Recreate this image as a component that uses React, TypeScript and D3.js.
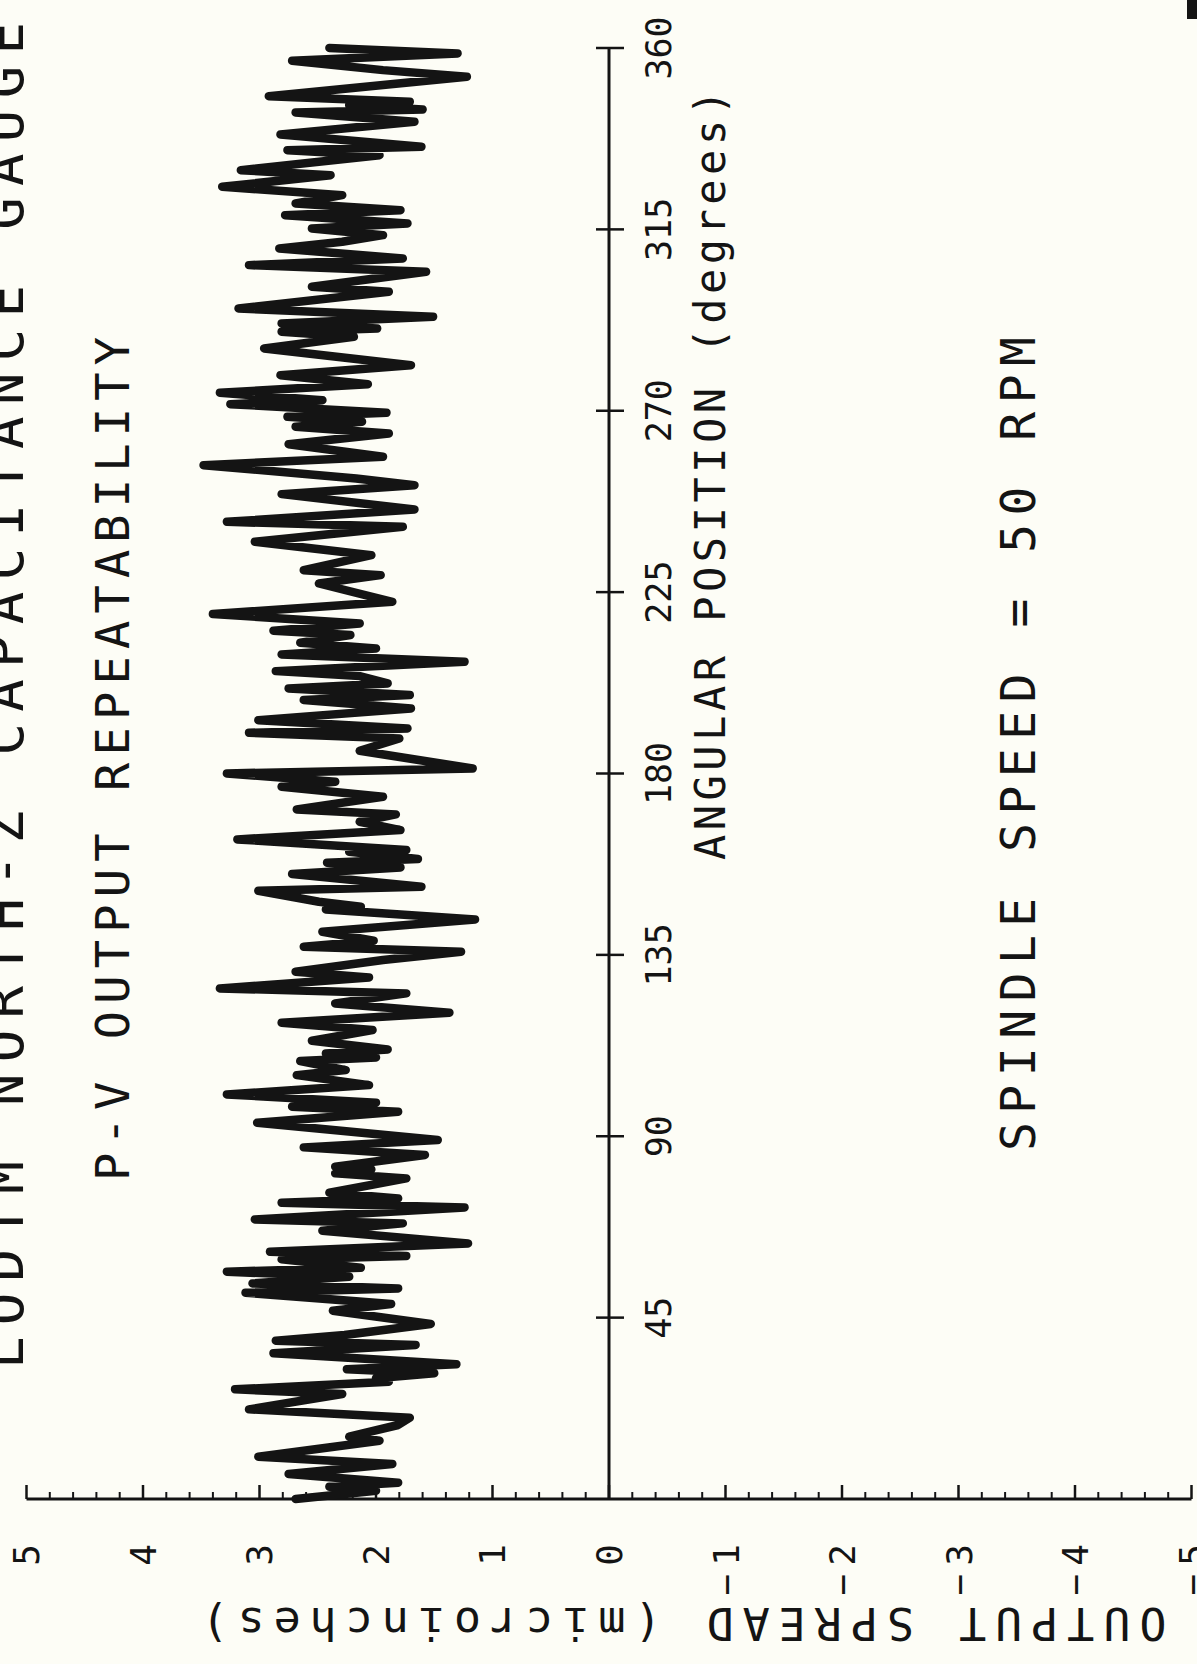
import React from "react";
import * as d3 from "d3";

// Peak-to-valley trace: angular position (degrees) and output spread (microinches)
const angleDeg = [
  0, 2.06, 3.05, 4.05, 6.2, 8.68, 10.5, 14.47, 15.46, 18.36, 20.17, 22.24, 26.05, 27.21, 29.11, 29.94,
  31.18, 32.17, 33.41, 36.14, 38.21, 39.28, 40.69, 43.42,
  46.71, 48.37, 51.18, 52.25, 53.49, 55.15, 56.39, 57.38, 59.45, 60.28, 61.35, 63.42, 66.56, 68.38,
  69.37, 72.35, 73.51, 74.58, 75.99, 79.55, 80.79, 81.78, 82.44, 85.34, 87.24, 89.06,
  93.35, 96.08, 97.32, 98.31, 100.38, 102.69, 105.17, 106.42, 108.65, 109.56, 110.55, 111.54, 113.69,
  116.34, 118.16, 120.64, 122.96, 125.44, 126.68, 129.41, 130.82, 133.71,
  135.77, 137.01, 138.5, 140.73, 143.8, 146.28, 146.94, 148.18, 150.91, 151.9, 155.05, 156.7, 157.86,
  158.77, 160.59, 161.0, 163.65, 165.96, 168.03, 169.85, 171.09, 174.23, 176.72, 177.96,
  180.01, 181.25, 185.63, 188.69, 190.1, 191.18, 193.24, 196.14, 198.21, 199.45, 201.1, 202.34, 204.16,
  205.4, 207.72, 209.54, 211.03, 212.43, 214.34, 215.41, 217.23, 219.55, 222.61,
  227.14, 229.21, 230.45, 234.17, 237.48, 241.2, 242.44, 245.5, 249.31, 251.54, 253.2, 256.5, 258.57,
  261.71, 264.36, 266.02, 267.26,
  268.49, 269.48, 271.64, 272.63, 274.45, 276.6, 278.83, 281.31, 285.45, 288.34, 289.58, 290.41, 291.65,
  293.31, 295.37, 299.51, 300.75, 304.47, 306.13, 307.78, 310.26, 311.92,
  313.56, 315.22, 316.46, 318.53, 319.77, 321.42, 323.49, 325.56, 328.45, 329.69, 333.41, 334.66, 335.48,
  338.54, 341.69, 344.0, 344.75, 345.82, 346.65, 348.05, 352.85, 354.51, 356.82, 358.64, 360,
];

const spreadMicroIn = [
  2.69, 2.0, 2.4, 1.81, 2.75, 1.86, 3.01, 1.97, 2.23, 1.81, 1.71, 3.09, 2.29, 3.21, 1.89, 2.0,
  1.5, 2.25, 1.31, 2.88, 1.66, 2.86, 2.27, 1.53,
  2.37, 1.87, 3.12, 1.81, 3.06, 2.23, 3.28, 2.13, 2.81, 1.74, 2.91, 1.21, 2.46, 1.77,
  3.04, 1.24, 2.81, 1.81, 2.4, 1.74, 2.35, 2.04, 2.35, 1.58, 2.62, 1.47,
  3.02, 1.81, 2.72, 2.0, 3.28, 2.06, 2.68, 2.26, 2.65, 2.0, 2.43, 1.9, 2.55,
  2.03, 2.81, 1.37, 2.35, 1.74, 3.34, 2.06, 2.69, 1.94,
  1.27, 2.62, 2.02, 2.46, 1.15, 2.43, 2.13, 2.49, 3.01, 1.61, 2.72, 1.79, 2.42,
  1.64, 2.23, 1.74, 3.19, 1.79, 2.14, 1.83, 2.68, 1.94, 2.81, 2.35,
  3.28, 1.17, 2.14, 1.8, 3.09, 1.73, 3.01, 1.7, 2.62, 1.71, 2.75, 1.9, 2.14,
  2.86, 1.24, 2.81, 2.0, 2.65, 2.22, 2.88, 2.14, 3.4, 1.86,
  2.49, 1.96, 2.62, 2.04, 3.04, 1.77, 3.28, 1.67, 2.81, 1.67, 2.17, 3.48, 1.94,
  2.75, 1.89, 2.69, 2.12,
  2.76, 1.91, 3.25, 2.46, 3.34, 2.07, 2.82, 1.7, 2.96, 2.19, 2.81, 1.99, 2.81,
  1.51, 3.18, 1.89, 2.55, 1.57, 3.09, 1.77, 2.83, 2.29,
  1.94, 2.55, 1.73, 2.78, 1.79, 2.69, 2.29, 3.32, 2.39, 3.16, 1.97, 2.76, 1.61,
  2.82, 1.67, 2.69, 1.6, 2.23, 1.71, 2.92, 1.22, 1.94, 2.72, 1.3, 2.4,
];

const angleTicks = [45, 90, 135, 180, 225, 270, 315, 360];
const spreadTicks = [5, 4, 3, 2, 1, 0, -1, -2, -3, -4, -5];

const headerTitle = "LODTM NORTH-Z CAPACITANCE GAUGE";
const plotTitle = "P-V OUTPUT REPEATABILITY";
const angleLabel = "ANGULAR POSITION (degrees)";
const spreadLabel = "OUTPUT SPREAD (microinches)";
const speedNote = "SPINDLE SPEED = 50 RPM";

const W = 1197;
const H = 1664;
const FONT = "'DejaVu Sans Mono', monospace";
const INK = "#141414";

export default function App() {
  // The plot is laid out in landscape (H wide, W tall) and turned a quarter turn
  // counter-clockwise onto the page.
  const x = d3.scaleLinear().domain([0, 360]).range([165, 1616]);
  const y = d3.scaleLinear().domain([5, -5]).range([26.5, 1191.5]);

  const pts: [number, number][] = angleDeg.map((a, i) => [a, spreadMicroIn[i]]);
  const trace = d3
    .line<[number, number]>()
    .x((d) => x(d[0]))
    .y((d) => y(d[1]))(pts);

  const minor = d3.range(-25, 26).map((k) => k / 5).filter((v) => Math.abs(v - Math.round(v)) > 1e-6);

  const x0 = x(0);
  const y0 = y(0);

  return (
    <svg
      width={W}
      height={H}
      style={{ position: "absolute", left: 0, top: 0, display: "block" }}
      xmlns="http://www.w3.org/2000/svg"
    >
      <rect width={W} height={H} fill="#fdfdf6" />
      <g transform={`translate(0,${H}) rotate(-90)`} fontFamily={FONT} fill={INK}>
        {/* headings */}
        <text x={295} y={23} fontSize={54} textLength={1347} lengthAdjust="spacing">
          {headerTitle}
        </text>
        <text x={483} y={129} fontSize={47} textLength={844} lengthAdjust="spacing">
          {plotTitle}
        </text>

        {/* spread axis */}
        <line x1={x0} x2={x0} y1={y(5)} y2={y(-5)} stroke={INK} strokeWidth={3} />
        {spreadTicks.map((v) => (
          <line key={`M${v}`} x1={x0} x2={x0 + 14} y1={y(v)} y2={y(v)} stroke={INK} strokeWidth={2.5} />
        ))}
        {minor.map((v) => (
          <line key={`m${v}`} x1={x0} x2={x0 + 7} y1={y(v)} y2={y(v)} stroke={INK} strokeWidth={2} />
        ))}
        {spreadTicks.map((v) => (
          <text
            key={`L${v}`}
            x={120}
            y={y(v)}
            fontSize={36}
            textAnchor="end"
            dominantBaseline="central"
          >
            {v < 0 ? (
              <>
                <tspan>−</tspan>
                <tspan dx={8}>{Math.abs(v)}</tspan>
              </>
            ) : (
              String(v)
            )}
          </text>
        ))}
        <text
          transform={`translate(56,${684}) rotate(-90)`}
          fontSize={45}
          textAnchor="middle"
          textLength={965}
          lengthAdjust="spacing"
        >
          {spreadLabel}
        </text>

        {/* angle axis */}
        <line x1={x0} x2={x(360)} y1={y0} y2={y0} stroke={INK} strokeWidth={3} />
        {angleTicks.map((a) => (
          <line key={`A${a}`} x1={x(a)} x2={x(a)} y1={y0 - 13} y2={y0 + 15} stroke={INK} strokeWidth={2.5} />
        ))}
        {angleTicks.map((a) => (
          <text key={`AL${a}`} x={x(a)} y={671} fontSize={35} textAnchor="middle">
            {a}
          </text>
        ))}
        <text x={804} y={725} fontSize={42} textLength={770} lengthAdjust="spacing">
          {angleLabel}
        </text>

        <text x={513} y={1035} fontSize={48} textLength={814} lengthAdjust="spacing">
          {speedNote}
        </text>

        {/* measured trace */}
        <path
          d={trace ?? ""}
          fill="none"
          stroke={INK}
          strokeWidth={8.5}
          strokeLinejoin="round"
          strokeLinecap="round"
        />
      </g>
      <rect x={1187} y={0} width={10} height={19} fill={INK} />
    </svg>
  );
}
